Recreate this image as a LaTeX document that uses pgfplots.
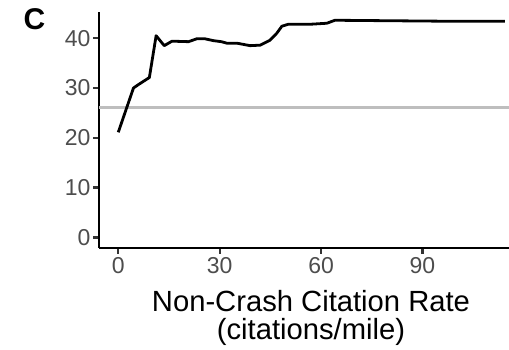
\documentclass[border=0pt]{standalone}
\usepackage{pgfplots}
\pgfplotsset{compat=1.18}
\usepackage{fontspec}
\setmainfont{Liberation Sans}
\definecolor{gray30}{HTML}{4D4D4D}
\definecolor{gray20}{HTML}{333333}
\definecolor{hline}{HTML}{BEBEBE}
\begin{document}
\begin{tikzpicture}[x=1pt,y=1pt]
\useasboundingbox (0,0) rectangle (509,350);
\begin{axis}[
  at={(99pt,102pt)}, anchor=south west,
  scale only axis, width=410pt, height=236pt,
  xmin=-5.7, xmax=115.6, ymin=-2.13, ymax=45.26,
  axis lines=left,
  axis line style={-, line width=2.5pt, black},
  xtick={0,30,60,90}, ytick={0,10,20,30,40},
  tick align=outside,
  major tick length=6pt,
  tick style={line width=2.3pt, gray20},
  minor tick num=0,
  /pgf/number format/assume math mode=true,
  ticklabel style={font=\fontsize{23}{25}\selectfont, text=gray30},
  yticklabel style={xshift=1pt},
  clip=false,
]
\addplot[hline, line width=2.3pt] coordinates {(-5.7,26.1) (115.6,26.1)};
\addplot[black, line width=2.8pt, line join=round] coordinates {
(0,21.1) (4.5,30.0) (6,30.7) (9.2,32.1) (11.2,40.5) (13.6,38.5) (15.9,39.4)
(20.8,39.3) (23.3,39.9) (25.5,39.9) (28.2,39.5) (30.5,39.3) (32.1,39.0)
(35.1,39.0) (39.0,38.5) (42.0,38.6) (44.9,39.6) (46.9,41.0) (48.4,42.4)
(50.3,42.8) (56.8,42.8) (61.7,43.0) (64.1,43.6) (98.1,43.4) (114.4,43.4)
};
\end{axis}
\node[anchor=base, inner sep=0pt, font=\fontsize{29.2}{30}\selectfont] at (311,38.3) {Non-Crash Citation Rate};
\node[anchor=base, inner sep=0pt, font=\fontsize{29.2}{30}\selectfont] at (311,10) {(citations/mile)};
\node[anchor=base west, inner sep=0pt, font=\fontsize{30}{30}\selectfont\bfseries] at (23.5,320.7) {C};
\end{tikzpicture}
\end{document}
